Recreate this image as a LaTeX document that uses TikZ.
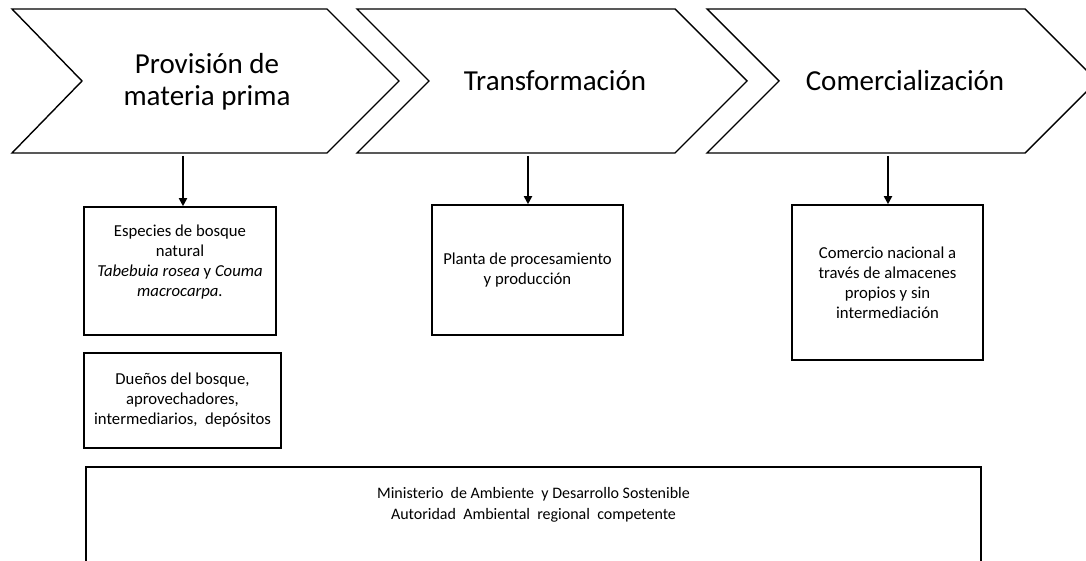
\documentclass[tikz,border=0pt]{standalone}
\usepackage{fontspec}
\setmainfont{Carlito}
\usetikzlibrary{arrows.meta}
\begin{document}
\begin{tikzpicture}[x=1pt,y=-1pt,
  chev/.style={draw=black,line width=1.4pt,line join=miter},
  chevtext/.style={font=\fontsize{29}{32}\selectfont,align=center,inner sep=0pt},
  box/.style={draw=black,line width=1.6pt,font=\fontsize{16.7}{20}\selectfont,align=center,inner sep=0pt},
  conn/.style={line width=1.8pt,-{Triangle[width=8pt,length=8pt]}}]
\useasboundingbox (0,0) rectangle (1086,561);
\clip (0,0) rectangle (1086,561);
% chevrons
\draw[chev] (12,9) -- (327,9) -- (399,81) -- (327,153) -- (12,153) -- (82,81) -- cycle;
\draw[chev] (357,9) -- (675,9) -- (747,81) -- (675,153) -- (357,153) -- (429,81) -- cycle;
\draw[chev] (707,9) -- (1025,9) -- (1097,81) -- (1025,153) -- (707,153) -- (779,81) -- cycle;
\node[chevtext] (c1) at (207,82) {Provisión de\\materia prima};
\node[chevtext] (c2) at (555,81) {Transformación};
\node[chevtext] (c3) at (905,81) {Comercialización};
\coordinate (a1) at (183,156);
\coordinate (a2) at (528,156);
\coordinate (a3) at (888,156);
% boxes
\node[box,minimum width=192pt,minimum height=128pt] (b1) at (180,271)
  {Especies de bosque\\natural\\\textit{Tabebuia rosea} y \textit{Couma}\\\textit{macrocarpa.}\\\mbox{}};
\node[box,minimum width=197pt,minimum height=95pt] (b2) at (182.5,400.5)
  {Dueños del bosque,\\aprovechadores,\\intermediarios,\ \ depósitos};
\node[box,minimum width=191pt,minimum height=130pt] (b3) at (527.5,270)
  {Planta de procesamiento\\y producción};
\node[box,minimum width=191pt,minimum height=155pt] (b4) at (887.5,282.5)
  {Comercio nacional a\\través de almacenes\\propios y sin\\intermediación};
\node[box,anchor=north,minimum width=895pt,inner ysep=21pt,text depth=90pt,
  font=\fontsize{16}{21}\selectfont] (b5) at (533.5,466)
  {Ministerio\ \ de Ambiente\ \ y Desarrollo Sostenible\\Autoridad\ \ Ambiental\ \ regional\ \ competente};
% connectors
\draw[conn] (a1) -- (a1 |- b1.north);
\draw[conn] (a2) -- (a2 |- b3.north);
\draw[conn] (a3) -- (a3 |- b4.north);
\end{tikzpicture}
\end{document}
